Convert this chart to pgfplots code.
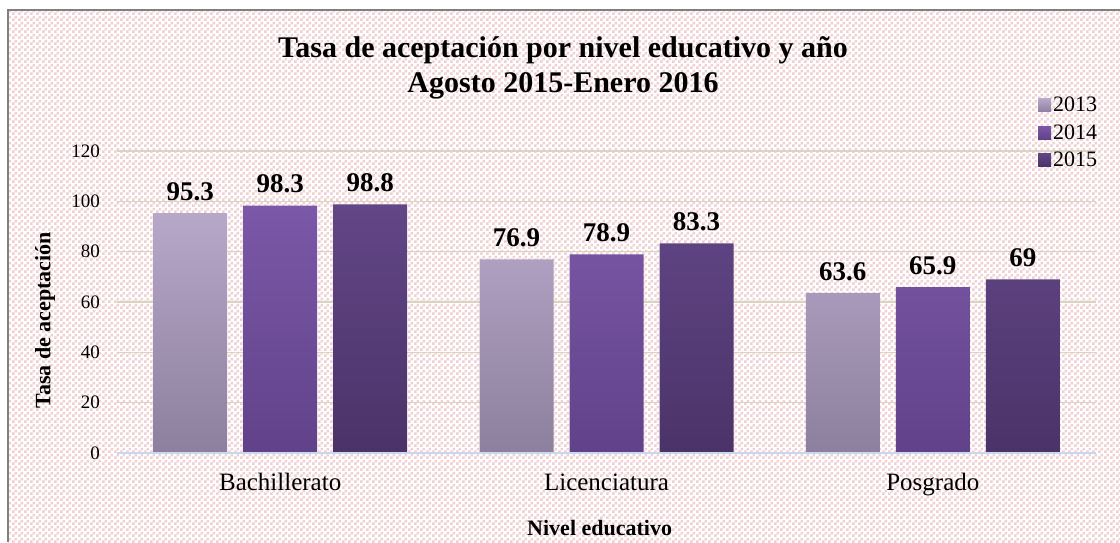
\documentclass[border=0pt]{standalone}
\usepackage{fontspec}
\setmainfont{Liberation Serif}
\usepackage{pgfplots}
\pgfplotsset{compat=1.18}
\usetikzlibrary{patterns}
\definecolor{pinkc}{HTML}{F0D0D2}
\definecolor{gridc}{HTML}{DAD5C0}
\definecolor{axisc}{HTML}{C6D9F0}
\definecolor{frame}{HTML}{808080}
\definecolor{aT}{HTML}{B7A7C9}
\definecolor{aB}{HTML}{8D7F9E}
\definecolor{bT}{HTML}{7B58A8}
\definecolor{bB}{HTML}{614289}
\definecolor{cT}{HTML}{624687}
\definecolor{cB}{HTML}{4B3368}
\pgfdeclarepatternformonly{pinkcheck}{\pgfpointorigin}{\pgfqpoint{6pt}{6pt}}{\pgfqpoint{6pt}{6pt}}{%
  \pgfpathrectangle{\pgfqpoint{0pt}{0pt}}{\pgfqpoint{3pt}{3pt}}%
  \pgfpathrectangle{\pgfqpoint{3pt}{3pt}}{\pgfqpoint{3pt}{3pt}}%
  \pgfusepath{fill}}
\begin{document}
\begin{tikzpicture}[x=1pt,y=1pt]
\useasboundingbox (0,0) rectangle (1120,542);
\fill[white] (8,0) rectangle (1120,532);
\fill[pattern=pinkcheck, pattern color=pinkc] (8,0) rectangle (1120,532);
\draw[frame, line width=1.5pt] (8,0) -- (8,532) -- (1120,532);
\begin{axis}[
  at={(117pt,89pt)}, anchor=south west,
  scale only axis, width=979pt, height=302pt,
  /pgf/number format/assume math mode=true,
  ybar=16pt, bar width=74pt,
  xmin=-0.5, xmax=2.5, ymin=0, ymax=120,
  xtick={0,1,2}, xticklabels={Bachillerato,Licenciatura,Posgrado},
  ytick={0,20,...,120},
  axis line style={draw=none}, major tick length=0pt,
  ymajorgrids, grid style={gridc, line width=1.2pt},
  yticklabel style={font=\fontsize{19}{22}\selectfont, inner sep=0pt, xshift=-17pt},
  xticklabel style={font=\fontsize{25}{28}\selectfont, inner sep=0pt, anchor=base, yshift=-37pt},
  title={Tasa de aceptación por nivel educativo y año\\Agosto 2015-Enero 2016},
  title style={at={(axis description cs:0.4556,1.255)}, anchor=center, align=center, font=\fontsize{30}{35}\bfseries\selectfont},
  xlabel={Nivel educativo},
  every axis x label/.style={at={(axis description cs:0.493,-0.248)}, anchor=center, font=\fontsize{22}{26}\bfseries\selectfont},
  ylabel={Tasa de aceptación},
  every axis y label/.style={at={(axis description cs:-0.0735,0.44)}, anchor=center, rotate=90, font=\fontsize{22}{26}\bfseries\selectfont},
  nodes near coords,
  every node near coord/.append style={font=\fontsize{27}{30}\bfseries\selectfont, yshift=9pt, black},
  legend style={at={(axis description cs:0.9408,1.185)}, anchor=north west, draw=none, fill=none, inner sep=0pt,
     font=\fontsize{22}{24}\selectfont, row sep=7pt, nodes={inner sep=2pt}},
  legend cell align=left,
  legend image code/.code={\path[#1, draw=none] (0pt,-6.5pt) rectangle (13pt,6.5pt);},
]
\addplot[draw=none, top color=aT, bottom color=aB] coordinates {(0,95.3) (1,76.9) (2,63.6)};
\addplot[draw=none, top color=bT, bottom color=bB] coordinates {(0,98.3) (1,78.9) (2,65.9)};
\addplot[draw=none, top color=cT, bottom color=cB] coordinates {(0,98.8) (1,83.3) (2,69)};
\legend{2013,2014,2015}
\draw[axisc, line width=1.5pt] (rel axis cs:0,0) -- (rel axis cs:1,0);
\end{axis}
\end{tikzpicture}
\end{document}
